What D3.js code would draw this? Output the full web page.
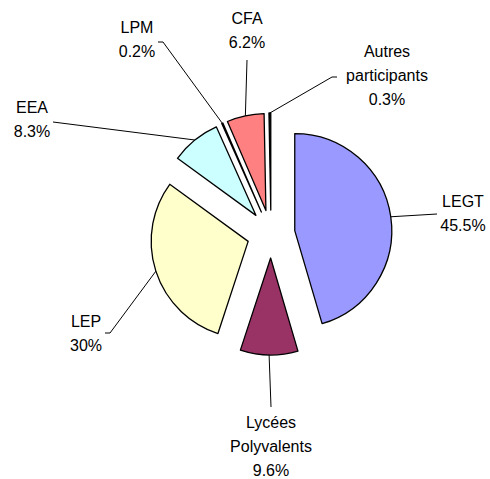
<!DOCTYPE html>
<html>
<head>
<meta charset="utf-8">
<script src="https://cdn.jsdelivr.net/npm/d3@7"></script>
<style>
  body { margin: 0; background: #fff; }
  text { font-family: "Liberation Sans", Arial, sans-serif; font-size: 16px; fill: #000; }
</style>
</head>
<body>
<div id="chart"></div>
<script>
// data, clockwise from 12 o'clock
var categories = ["LEGT", "Lycées Polyvalents", "LEP", "EEA", "LPM", "CFA", "Autres participants"];
var values = [45.5, 9.6, 30, 8.3, 0.2, 6.2, 0.3];
var labelLines = [["LEGT"], ["Lycées", "Polyvalents"], ["LEP"], ["EEA"], ["LPM"], ["CFA"], ["Autres", "participants"]];
var colors = ["#9999FF", "#993366", "#FFFFCC", "#CCFFFF", "#FFFFFF", "#FF8080", "#000000"];

// where each label sits and how its leader line bends
var labelLayout = [
  { x: 463, y: 207, pts: [[437, 214]] },
  { x: 271, y: 428, pts: [[271, 407]] },
  { x: 86, y: 327, pts: [[110, 333], [105, 333]] },
  { x: 32, y: 113, pts: [[53, 122]] },
  { x: 137, y: 33, pts: [[163, 42], [158, 42]] },
  { x: 247, y: 24, pts: [[247, 60]] },
  { x: 387, y: 57, pts: [[332, 77], [337, 77]] }
];

var svgWidth = 490;
var svgHeight = 479;
var cx = 271;
var cy = 234;
var radius = 97;
var explode = 24;
var lineHeight = 24;

var svg = d3.select("#chart")
  .append("svg")
  .attr("width", svgWidth)
  .attr("height", svgHeight);

var pieData = categories.map(function(c, i) {
  return { name: c, value: values[i], lines: labelLines[i], color: colors[i], layout: labelLayout[i] };
});

var pie = d3.pie()
  .sort(null)
  .value(d => d.value);

var arc = d3.arc()
  .innerRadius(0)
  .outerRadius(radius);

var arcs = pie(pieData);

function midAngle(d) {
  return (d.startAngle + d.endAngle) / 2;
}

// offset of an exploded slice
function shift(d) {
  var a = midAngle(d);
  return [explode * Math.sin(a), -explode * Math.cos(a)];
}

var chartGroup = svg.append("g")
  .attr("transform", `translate(${cx}, ${cy})`);

chartGroup.selectAll("path.slice")
  .data(arcs)
  .enter()
  .append("path")
  .attr("class", "slice")
  .attr("transform", d => `translate(${shift(d)[0]}, ${shift(d)[1]})`)
  .attr("d", arc)
  .attr("fill", d => d.data.color)
  .attr("stroke", "#000")
  .attr("stroke-width", 1.3)
  .attr("stroke-linejoin", "round");

// leader lines, from the outer edge of each slice to its label
var line = d3.line();

svg.selectAll("path.leader")
  .data(arcs)
  .enter()
  .append("path")
  .attr("class", "leader")
  .attr("d", function(d) {
    var a = midAngle(d);
    var s = shift(d);
    var start = [cx + s[0] + radius * Math.sin(a), cy + s[1] - radius * Math.cos(a)];
    return line([start].concat(d.data.layout.pts));
  })
  .attr("fill", "none")
  .attr("stroke", "#000")
  .attr("stroke-width", 1);

// labels: name lines then the percentage
var labels = svg.selectAll("text.label")
  .data(arcs)
  .enter()
  .append("text")
  .attr("class", "label")
  .attr("text-anchor", "middle")
  .attr("x", d => d.data.layout.x)
  .attr("y", d => d.data.layout.y);

labels.each(function(d) {
  var t = d3.select(this);
  var rows = d.data.lines.concat([d.data.value + "%"]);
  rows.forEach(function(r, i) {
    t.append("tspan")
      .attr("x", d.data.layout.x)
      .attr("y", d.data.layout.y + i * lineHeight)
      .text(r);
  });
});
</script>
</body>
</html>
